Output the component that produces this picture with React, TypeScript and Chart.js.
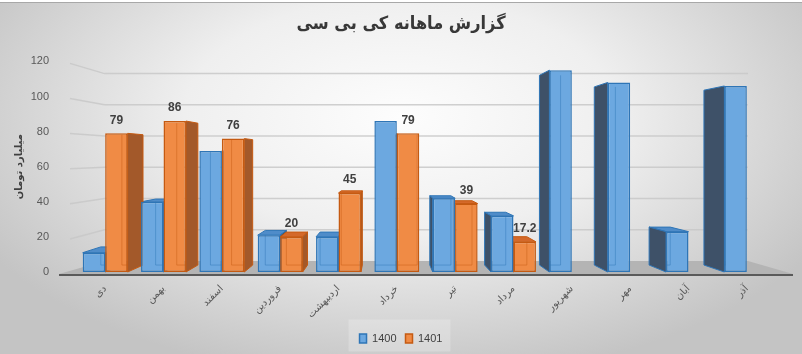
import React, { useEffect, useRef } from "react";
import { Chart, registerables } from "chart.js";

Chart.register(...registerables);

// ---------- data ----------
const months = ["دی", "بهمن", "اسفند", "فروردین", "اردیبهشت", "خرداد", "تیر", "مرداد", "شهریور", "مهر", "آبان", "آذر"];
const series1400 = [11, 40, 69, 21, 20, 86, 42, 32, 115, 108, 23, 106];
const series1401 = [79, 86, 76, 20, 45, 79, 39, 17.2, null, null, null, null];
const seriesNames = ["1400", "1401"];
const yMin = 0;
const yMax = 120;
const yStep = 20;
const chartTitle = "گزارش ماهانه کی بی سی";
const yAxisTitle = "میلیارد تومان";

// ---------- style ----------
const W = 802;
const H = 354;
const LATIN = "'Liberation Sans', Arial, sans-serif";
const PERSIAN = "'DejaVu Sans', sans-serif";
const PERSIAN_TITLE = "'DejaVu Sans Condensed', 'DejaVu Sans', sans-serif";
const BAR_DEPTH = 0.94;
const FLOOR_DEPTH = 0.89;
const palette = [
  { fill: "#6ca8e0", edge: "#2e75b6", side: "#3e5168", top: "#4f8cc9" },
  { fill: "#f08b45", edge: "#c55a11", side: "#a3592a", top: "#d4692a" },
];

function vanish(chart: any) {
  const a = chart.chartArea;
  return { x: a.left + (a.right - a.left) * 0.44, y: chart.scales.y.getPixelForValue(66) };
}
function pj(v: number, c: number, s: number) {
  return c + (v - c) * s;
}
function barBox(chart: any, el: any) {
  const vp = vanish(chart);
  const p = el.getProps(["x", "y", "base", "width"], true);
  const L = p.x - p.width / 2;
  const R = p.x + p.width / 2;
  const T = p.y;
  const B = p.base;
  return {
    vp, p, L, R, T, B,
    L2: pj(L, vp.x, BAR_DEPTH),
    R2: pj(R, vp.x, BAR_DEPTH),
    T2: pj(T, vp.y, BAR_DEPTH),
    B2: pj(B, vp.y, BAR_DEPTH),
  };
}

const backgroundPlugin = {
  id: "bg3d",
  beforeDraw(chart: any) {
    const { ctx, width, height } = chart;
    ctx.save();
    ctx.translate(width * 0.5, height * 0.33);
    ctx.scale(1, 0.55);
    const g = ctx.createRadialGradient(0, 0, 0, 0, 0, width * 0.6);
    g.addColorStop(0, "#fdfdfd");
    g.addColorStop(0.45, "#efefef");
    g.addColorStop(1, "#c4c4c4");
    ctx.fillStyle = g;
    ctx.fillRect(-width, -height * 3, width * 2, height * 6);
    ctx.restore();
    ctx.save();
    ctx.fillStyle = "#ffffff";
    ctx.fillRect(0, 0, width, 2);
    ctx.fillStyle = "#a8a8a8";
    ctx.fillRect(0, 2, width, 1);
    ctx.restore();
    const lg: any = chart.legend;
    if (lg && lg.legendHitBoxes && lg.legendHitBoxes.length) {
      const hb = lg.legendHitBoxes;
      const x0 = hb[0].left - 11;
      const last = hb[hb.length - 1];
      const x1 = last.left + last.width + 8;
      const yc = hb[0].top + hb[0].height / 2;
      ctx.save();
      ctx.fillStyle = "rgba(255,255,255,0.22)";
      ctx.fillRect(x0, yc - 19, x1 - x0, 32);
      ctx.restore();
    }
  },
  beforeDatasetsDraw(chart: any) {
    const { ctx, chartArea: a, scales } = chart;
    const vp = vanish(chart);
    const y0 = scales.y.getPixelForValue(0) + 2;
    const fl = a.left - 6;
    const fr = a.right + 17;
    const bl = pj(fl, vp.x, FLOOR_DEPTH);
    const br = pj(fr, vp.x, FLOOR_DEPTH);
    const by = pj(y0, vp.y, FLOOR_DEPTH);
    ctx.save();
    ctx.beginPath();
    ctx.moveTo(a.left - 17, y0);
    ctx.lineTo(fr, y0);
    ctx.lineTo(br, by);
    ctx.lineTo(bl, by);
    ctx.closePath();
    ctx.fillStyle = "#b4b4b4";
    ctx.fill();
    ctx.strokeStyle = "rgba(200,200,200,0.85)";
    ctx.lineWidth = 1.5;
    for (let v = yMin + yStep; v <= yMax; v += yStep) {
      const fy = scales.y.getPixelForValue(v) + 2;
      const bky = pj(fy, vp.y, FLOOR_DEPTH);
      ctx.beginPath();
      ctx.moveTo(fl, fy);
      ctx.lineTo(bl, bky);
      ctx.lineTo(br, bky);
      ctx.stroke();
    }
    ctx.fillStyle = "#5a5a5a";
    ctx.fillRect(a.left - 17, y0, fr - (a.left - 17), 2);

    chart.data.datasets.forEach((ds: any, di: number) => {
      const meta = chart.getDatasetMeta(di);
      const col = palette[di];
      meta.data.forEach((el: any, i: number) => {
        if (ds.data[i] === null || ds.data[i] === undefined) return;
        const b = barBox(chart, el);
        if (!Number.isFinite(b.T)) return;
        ctx.lineWidth = 1;
        ctx.strokeStyle = col.edge;
        if (b.T > vp.y) {
          ctx.beginPath();
          ctx.moveTo(b.L, b.T);
          ctx.lineTo(b.R, b.T);
          ctx.lineTo(b.R2, b.T2);
          ctx.lineTo(b.L2, b.T2);
          ctx.closePath();
          ctx.fillStyle = col.top;
          ctx.fill();
          ctx.stroke();
        }
        if (b.R < vp.x) {
          ctx.beginPath();
          ctx.moveTo(b.R, b.T);
          ctx.lineTo(b.R2, b.T2);
          ctx.lineTo(b.R2, b.B2);
          ctx.lineTo(b.R, b.B);
          ctx.closePath();
          ctx.fillStyle = col.side;
          ctx.fill();
          ctx.stroke();
        } else if (b.L > vp.x) {
          ctx.beginPath();
          ctx.moveTo(b.L, b.T);
          ctx.lineTo(b.L2, b.T2);
          ctx.lineTo(b.L2, b.B2);
          ctx.lineTo(b.L, b.B);
          ctx.closePath();
          ctx.fillStyle = col.side;
          ctx.fill();
          ctx.stroke();
        }
      });
    });
    ctx.restore();
  },
  afterDatasetsDraw(chart: any) {
    const { ctx } = chart;
    ctx.save();
    chart.data.datasets.forEach((ds: any, di: number) => {
      const meta = chart.getDatasetMeta(di);
      const col = palette[di];
      meta.data.forEach((el: any, i: number) => {
        if (ds.data[i] === null || ds.data[i] === undefined) return;
        const b = barBox(chart, el);
        if (!Number.isFinite(b.T)) return;
        ctx.globalAlpha = 0.45;
        ctx.strokeStyle = col.edge;
        ctx.lineWidth = 1;
        ctx.beginPath();
        const ex = b.R < b.vp.x ? b.L2 : b.L > b.vp.x ? b.R2 : null;
        if (ex !== null) {
          ctx.moveTo(ex, Math.max(b.T, b.T2));
          ctx.lineTo(ex, b.B2);
        }
        ctx.moveTo(Math.max(b.L, b.L2), b.B2);
        ctx.lineTo(Math.min(b.R, b.R2), b.B2);
        ctx.stroke();
        ctx.globalAlpha = 1;
        if (di === 1) {
          ctx.fillStyle = "#404040";
          ctx.font = `bold 12px ${LATIN}`;
          ctx.textAlign = "center";
          ctx.textBaseline = "middle";
          ctx.fillText(String(ds.data[i]), b.p.x, b.T - 13);
        }
      });
    });
    ctx.restore();
  },
};

export default function App() {
  const ref = useRef<HTMLCanvasElement | null>(null);

  useEffect(() => {
    document.body.style.margin = "0";
    const canvas = ref.current;
    if (!canvas) return;
    const chart = new Chart(canvas, {
      type: "bar",
      data: {
        labels: months,
        datasets: [
          {
            label: seriesNames[0],
            data: series1400,
            backgroundColor: palette[0].fill,
            borderColor: palette[0].edge,
            borderWidth: 1.5,
            borderSkipped: false,
          },
          {
            label: seriesNames[1],
            data: series1401 as any,
            backgroundColor: palette[1].fill,
            borderColor: palette[1].edge,
            borderWidth: 1.5,
            borderSkipped: false,
          },
        ],
      },
      options: {
        responsive: false,
        animation: false,
        devicePixelRatio: 1,
        layout: { padding: { left: 13, right: 13, top: 0, bottom: 0 } },
        datasets: { bar: { barPercentage: 1, categoryPercentage: 0.77 } },
        plugins: {
          title: {
            display: true,
            text: chartTitle,
            color: "#383838",
            font: { family: PERSIAN_TITLE, size: 18, weight: "bold", lineHeight: 1.3 },
            padding: { top: 13, bottom: 25 },
          },
          legend: {
            position: "bottom",
            labels: {
              boxWidth: 7,
              boxHeight: 9,
              padding: 9,
              color: "#404040",
              font: { family: LATIN, size: 11 },
            },
          },
          tooltip: { enabled: false },
        },
        scales: {
          x: {
            grid: { display: false, drawTicks: false },
            border: { display: false },
            ticks: {
              autoSkip: false,
              minRotation: 45,
              maxRotation: 45,
              padding: 11,
              color: "#595959",
              font: { family: PERSIAN, size: 10 },
            },
            afterFit(scale: any) {
              scale.height = 52;
            },
          },
          y: {
            min: yMin,
            max: yMax,
            grid: { display: false, drawTicks: false },
            border: { display: false },
            ticks: {
              stepSize: yStep,
              padding: 27,
              color: "#595959",
              font: { family: LATIN, size: 11 },
            },
            title: {
              display: true,
              text: yAxisTitle,
              color: "#404040",
              font: { family: PERSIAN, size: 10, weight: "bold" },
              padding: { top: 0, bottom: 0 },
            },
            afterFit(scale: any) {
              scale.width = 63;
            },
          },
          yRight: {
            position: "right",
            display: true,
            min: yMin,
            max: yMax,
            grid: { display: false, drawTicks: false },
            border: { display: false },
            ticks: { display: false },
            afterFit(scale: any) {
              scale.width = 13;
            },
          },
        },
      } as any,
      plugins: [backgroundPlugin],
    });
    return () => chart.destroy();
  }, []);

  return (
    <div style={{ position: "fixed", left: 0, top: 0, width: W, height: H }}>
      <canvas ref={ref} width={W} height={H} style={{ display: "block", width: W, height: H }} />
    </div>
  );
}
